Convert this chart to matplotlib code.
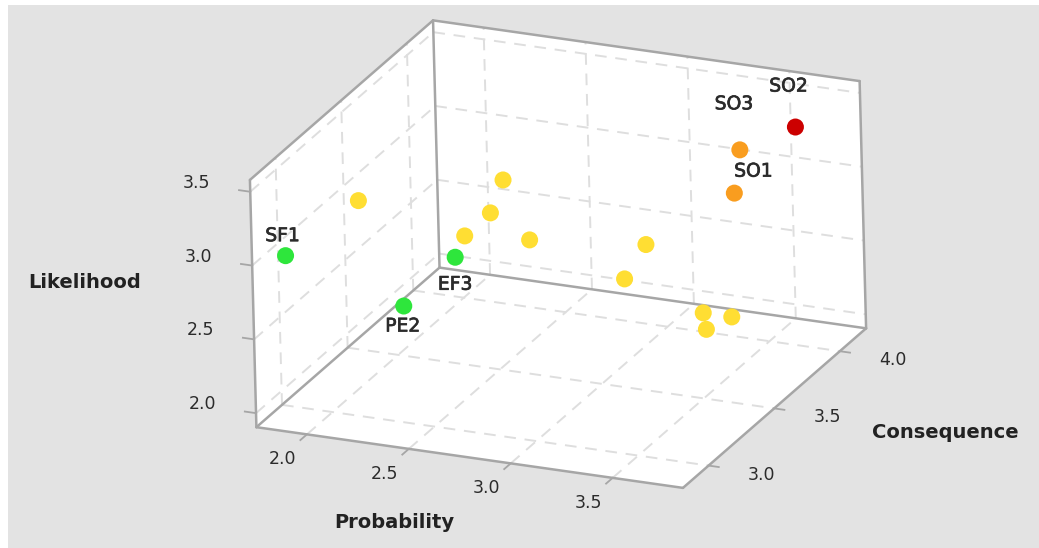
import numpy as np
import matplotlib
matplotlib.use("Agg")
import matplotlib.pyplot as plt
import matplotlib.patheffects as pe
from matplotlib.patches import Rectangle
from matplotlib.transforms import offset_copy
from mpl_toolkits.mplot3d import proj3d
from mpl_toolkits.mplot3d.art3d import Poly3DCollection

plt.rcParams['font.family'] = ['DejaVu Sans']

# ---- data -----------------------------------------------------------------
probability = [1.845, 2.105, 2.615, 2.575, 2.505, 2.495, 2.295, 2.725, 3.165, 3.095, 3.445, 3.585, 3.465, 3.395, 3.435, 3.665]
consequence = [2.915, 3.075, 3.385, 3.345, 3.255, 3.195, 3.105, 3.405, 3.605, 3.545, 3.595, 3.595, 3.585, 3.975, 3.865, 3.985]
likelihood  = [3.00, 3.30, 3.30, 3.10, 3.00, 2.90, 2.60, 2.90, 2.80, 2.60, 2.40, 2.40, 2.30, 3.20, 3.00, 3.40]
risk_level  = ['g', 'y', 'y', 'y', 'y', 'g', 'g', 'y', 'y', 'y', 'y', 'y', 'y', 'o', 'o', 'r']
point_names = ['SF1', '', '', '', '', 'EF3', 'PE2', '', '', '', '', '', '', 'SO3', 'SO1', 'SO2']
prob_ticks = [2.0, 2.5, 3.0, 3.5]
cons_ticks = [3.0, 3.5, 4.0]
like_ticks = [2.0, 2.5, 3.0, 3.5]

# ---- style ----------------------------------------------------------------
W, H = 1039, 548
xlim = (1.752, 3.845)
ylim = (2.805, 4.2)
zlim = (1.905, 3.58)
risk_colors = {'g': '#2EE63C', 'y': '#FFDE33', 'o': '#F99D1F', 'r': '#CC0000'}
name_offsets = {'SF1': (-3, 20), 'SO1': (19, 22), 'SO2': (-7, 41), 'SO3': (-6, 46),
                'EF3': (0, -27), 'PE2': (-1, -20)}
EDGE, GRID, TXT = '#A6A6A6', '#DEDEDE', '#2B2B2B'

fig = plt.figure(figsize=(W / 100, H / 100), dpi=100, facecolor='white')
fig.add_artist(Rectangle((8 / W, 0), 1, 1 - 5 / H, transform=fig.transFigure,
                         facecolor='#E3E3E3', edgecolor='none', zorder=-5))

ax = fig.add_axes([0, (H - W) / 2 / H, 1, W / H], projection='3d',
                  proj_type='ortho', computed_zorder=False)
ax.set_axis_off()
ax.patch.set_visible(False)
ax.apply_aspect()

# box corners as seen in the picture -> oblique projection for the 3D axes
corner_idx = [(0, 0, 1), (0, 1, 1), (0, 1, 0), (0, 0, 0), (1, 0, 0), (1, 1, 0), (1, 1, 1)]
corner_px = [(249.3, 180), (433.3, 20.7), (439, 267.7), (257.3, 426.7),
             (682.7, 488.3), (866, 328.3), (860, 80.7)]
A = np.array([[xlim[i], ylim[j], zlim[k], 1.0] for i, j, k in corner_idx])
disp = np.array([(u, H - v) for u, v in corner_px])
view = ax.transData.inverted().transform(disp)
rx = np.linalg.lstsq(A, view[:, 0], rcond=None)[0]
ry = np.linalg.lstsq(A, view[:, 1], rcond=None)[0]
rz = np.cross(rx[:3], ry[:3])
rz = np.r_[rz / np.linalg.norm(rz), -10.0]
M = np.array([rx, ry, rz, [0, 0, 0, 1.0]])
ax.get_proj = lambda: M

# panes
x0, x1 = xlim; y0, y1 = ylim; z0, z1 = zlim
panes = [[(x0, y0, z0), (x1, y0, z0), (x1, y1, z0), (x0, y1, z0)],
         [(x0, y0, z0), (x0, y1, z0), (x0, y1, z1), (x0, y0, z1)],
         [(x0, y1, z0), (x1, y1, z0), (x1, y1, z1), (x0, y1, z1)]]
ax.add_collection3d(Poly3DCollection(panes, facecolors='white', edgecolors='none', zorder=1))

def seg(p, q, **kw):
    ax.plot([p[0], q[0]], [p[1], q[1]], [p[2], q[2]], **kw)

grid_kw = dict(color=GRID, lw=1.4, dashes=(6, 4.5), zorder=2)
for x in prob_ticks:
    seg((x, y0, z0), (x, y1, z0), **grid_kw)
    seg((x, y1, z0), (x, y1, z1), **grid_kw)
for y in cons_ticks:
    seg((x0, y, z0), (x1, y, z0), **grid_kw)
    seg((x0, y, z0), (x0, y, z1), **grid_kw)
for z in like_ticks:
    seg((x0, y0, z), (x0, y1, z), **grid_kw)
    seg((x0, y1, z), (x1, y1, z), **grid_kw)

edge_kw = dict(color=EDGE, lw=1.8, zorder=3, solid_capstyle='round')
for p, q in [((x0, y0, z0), (x0, y0, z1)), ((x0, y1, z0), (x0, y1, z1)), ((x1, y1, z0), (x1, y1, z1)),
             ((x0, y0, z1), (x0, y1, z1)), ((x0, y1, z1), (x1, y1, z1)),
             ((x0, y0, z0), (x0, y1, z0)), ((x0, y1, z0), (x1, y1, z0)),
             ((x0, y0, z0), (x1, y0, z0)), ((x1, y0, z0), (x1, y1, z0))]:
    seg(p, q, **edge_kw)

tick_kw = dict(color=EDGE, lw=1.3, zorder=3)
def label(x, y, z, s, dx, dy, **kw):
    vx, vy, _ = proj3d.proj_transform(x, y, z, M)
    tr = offset_copy(ax.transData, fig=fig, x=dx, y=dy, units='dots')
    ax.text2D(vx, vy, s, transform=tr, ha='center', va='center', zorder=6, **kw)

tick_font = dict(fontsize=12.5, color=TXT)
for x in prob_ticks:
    seg((x, y0, z0), (x, y0 - 0.05, z0), **tick_kw)
    label(x, y0, z0, f'{x:.1f}', -24, -25, **tick_font)
for y in cons_ticks:
    seg((x1, y, z0), (x1 + 0.05, y, z0), **tick_kw)
    label(x1, y, z0, f'{y:.1f}', 53, -9, **tick_font)
for z in like_ticks:
    seg((x0, y0, z), (x0 - 0.055, y0, z), **tick_kw)
    label(x0, y0, z, f'{z:.1f}', -54, 9, **tick_font)

ax.scatter(probability, consequence, likelihood, s=150, linewidths=0, depthshade=False,
           c=[risk_colors[r] for r in risk_level], alpha=1, zorder=4)

semi = [pe.withStroke(linewidth=0.5, foreground=TXT)]
for x, y, z, n in zip(probability, consequence, likelihood, point_names):
    if n:
        label(x, y, z, n, *name_offsets[n], fontsize=13.5, color=TXT, path_effects=semi)

title_font = dict(fontsize=14, fontweight='bold', color='#222222', ha='center', va='center')
fig.text(394 / W, 1 - 522 / H, 'Probability', **title_font)
fig.text(85 / W, 1 - 282 / H, 'Likelihood', **title_font)
fig.text(945 / W, 1 - 432 / H, 'Consequence', **title_font)

fig.savefig('out.png', dpi=100, facecolor='white')
